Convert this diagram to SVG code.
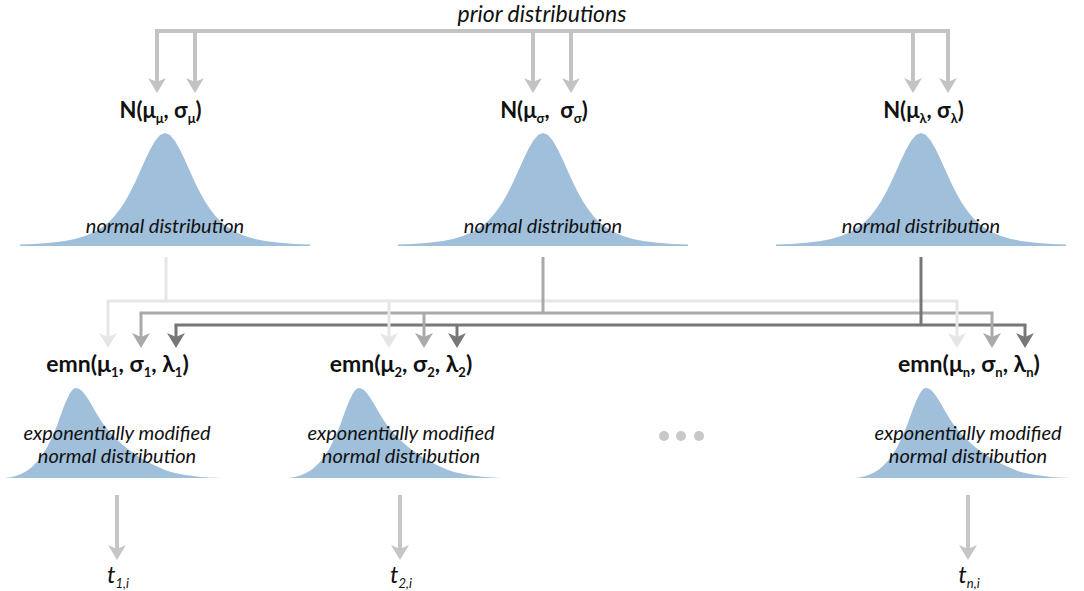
<svg xmlns="http://www.w3.org/2000/svg" xmlns:xlink="http://www.w3.org/1999/xlink" width="1084" height="591" viewBox="0 0 1084 591">
<style>
  .lbl { font-family: Lato, "Open Sans", "Liberation Sans", sans-serif; font-weight: bold; font-size: 22px; fill: #111; }
  .emn { font-family: Lato, "Open Sans", "Liberation Sans", sans-serif; font-weight: bold; font-size: 23px; fill: #111; }
  .it { font-family: Lato, "Open Sans", "Liberation Sans", sans-serif; font-style: italic; font-size: 20px; fill: #111; }
  .title { font-family: Lato, "Open Sans", "Liberation Sans", sans-serif; font-style: italic; font-size: 23px; fill: #111; }
  .tt { font-family: Lato, "Open Sans", "Liberation Sans", sans-serif; font-style: italic; font-size: 24px; fill: #111; }
  .sub { font-size: 13px; }
  .bell { fill: #9fbfdb; }
  .ln { fill: none; }
  .top { stroke: #c3c3c3; stroke-width: 4; }
  .light { stroke: #e6e6e6; stroke-width: 3; }
  .med { stroke: #aaaaaa; stroke-width: 3; }
  .dark { stroke: #777777; stroke-width: 3; }
  .bot { stroke: #c6c6c6; stroke-width: 4; }
  .dot { fill: #c8c8c8; }
</style>
<defs>
  <marker id="aTop" markerUnits="userSpaceOnUse" viewBox="-10 -10 20 20" markerWidth="20" markerHeight="20" refX="0" refY="0" orient="auto"><path d="M8,0 L-7,-9 L-3,0 L-7,9 Z" fill="#c3c3c3"/></marker>
  <marker id="aLight" markerUnits="userSpaceOnUse" viewBox="-10 -10 20 20" markerWidth="20" markerHeight="20" refX="0" refY="0" orient="auto"><path d="M8,0 L-7,-9 L-3,0 L-7,9 Z" fill="#e6e6e6"/></marker>
  <marker id="aMed" markerUnits="userSpaceOnUse" viewBox="-10 -10 20 20" markerWidth="20" markerHeight="20" refX="0" refY="0" orient="auto"><path d="M8,0 L-7,-9 L-3,0 L-7,9 Z" fill="#aaaaaa"/></marker>
  <marker id="aDark" markerUnits="userSpaceOnUse" viewBox="-10 -10 20 20" markerWidth="20" markerHeight="20" refX="0" refY="0" orient="auto"><path d="M8,0 L-7,-9 L-3,0 L-7,9 Z" fill="#777777"/></marker>
  <marker id="aBot" markerUnits="userSpaceOnUse" viewBox="-10 -10 20 20" markerWidth="20" markerHeight="20" refX="0" refY="0" orient="auto"><path d="M8,0 L-7,-9 L-3,0 L-7,9 Z" fill="#c6c6c6"/></marker>
  <path id="bell" d="M-145,0 L-145,-1.5 -130,-2.1 -115,-3.2 -100,-5.1 -90,-7.1 -80,-9.9 -70,-14.3 -60,-20.8 -55,-25.1 -50,-30.5 -45,-36.9 -40,-44.6 -35,-53.5 -30,-63.6 -25,-74.5 -20,-85.7 -15,-96.3 -10,-105.1 -5,-110.9 0,-113 5,-110.9 10,-105.1 15,-96.3 20,-85.7 25,-74.5 30,-63.6 35,-53.5 40,-44.6 45,-36.9 50,-30.5 55,-25.1 60,-20.8 70,-14.3 80,-9.9 90,-7.1 100,-5.1 115,-3.2 130,-2.1 145,-1.5 145,0 Z"/>
  <path id="emg" d="M-71,0 C-40,-2 -28,-30 -18,-55 C-10,-78 -5,-90 0,-90 C6,-90 12,-80 22,-62 C35,-40 60,-18 95,-6 C115,-1 135,0 154,0 Z"/>
</defs>

<text class="title" x="542" y="22" text-anchor="middle">prior distributions</text>

<g id="connectors">
  <path class="ln top" d="M155,31 H950"/>
  <path class="ln top" d="M157,31 V85" marker-end="url(#aTop)"/>
  <path class="ln top" d="M195,31 V85" marker-end="url(#aTop)"/>
  <path class="ln top" d="M533,31 V85" marker-end="url(#aTop)"/>
  <path class="ln top" d="M571,31 V85" marker-end="url(#aTop)"/>
  <path class="ln top" d="M913,31 V85" marker-end="url(#aTop)"/>
  <path class="ln top" d="M948,31 V85" marker-end="url(#aTop)"/>
  <path class="ln light" d="M106.5,301 H958.5"/>
  <path class="ln med" d="M139.5,313 H993.5"/>
  <path class="ln dark" d="M174.5,325 H1026.5"/>
  <path class="ln light" d="M166,257 V301"/>
  <path class="ln med" d="M543,257 V313"/>
  <path class="ln dark" d="M921,257 V325"/>
  <path class="ln light" d="M108,301 V340" marker-end="url(#aLight)"/>
  <path class="ln light" d="M389,301 V340" marker-end="url(#aLight)"/>
  <path class="ln light" d="M957,301 V340" marker-end="url(#aLight)"/>
  <path class="ln med" d="M141,313 V340" marker-end="url(#aMed)"/>
  <path class="ln med" d="M424,313 V340" marker-end="url(#aMed)"/>
  <path class="ln med" d="M992,313 V340" marker-end="url(#aMed)"/>
  <path class="ln dark" d="M176,325 V340" marker-end="url(#aDark)"/>
  <path class="ln dark" d="M457,325 V340" marker-end="url(#aDark)"/>
  <path class="ln dark" d="M1025,325 V340" marker-end="url(#aDark)"/>
  <path class="ln bot" d="M117,495 V552" marker-end="url(#aBot)"/>
  <path class="ln bot" d="M400,495 V552" marker-end="url(#aBot)"/>
  <path class="ln bot" d="M968,495 V552" marker-end="url(#aBot)"/>
</g>

<g id="prior-mu">
  <text class="lbl" x="160.5" y="118" text-anchor="middle">N(μ<tspan class="sub" dy="5">μ</tspan><tspan dy="-5">, σ</tspan><tspan class="sub" dy="5">μ</tspan><tspan dy="-5">)</tspan></text>
  <use xlink:href="#bell" x="165" y="246" class="bell"/>
  <text class="it" x="165" y="233" text-anchor="middle">normal distribution</text>
</g>
<g id="prior-sigma">
  <text class="lbl" x="544" y="118" text-anchor="middle" xml:space="preserve">N(μ<tspan class="sub" dy="5">σ</tspan><tspan dy="-5">,  σ</tspan><tspan class="sub" dy="5">σ</tspan><tspan dy="-5">)</tspan></text>
  <use xlink:href="#bell" x="543" y="246" class="bell"/>
  <text class="it" x="543" y="233" text-anchor="middle">normal distribution</text>
</g>
<g id="prior-lambda">
  <text class="lbl" x="923.5" y="118" text-anchor="middle">N(μ<tspan class="sub" dy="5">λ</tspan><tspan dy="-5">, σ</tspan><tspan class="sub" dy="5">λ</tspan><tspan dy="-5">)</tspan></text>
  <use xlink:href="#bell" x="921" y="246" class="bell"/>
  <text class="it" x="921" y="233" text-anchor="middle">normal distribution</text>
</g>

<g id="emn-1">
  <text class="emn" x="117.5" y="372" text-anchor="middle">emn(μ<tspan class="sub" dy="5">1</tspan><tspan dy="-5">, σ</tspan><tspan class="sub" dy="5">1</tspan><tspan dy="-5">, λ</tspan><tspan class="sub" dy="5">1</tspan><tspan dy="-5">)</tspan></text>
  <use xlink:href="#emg" x="76" y="478" class="bell"/>
  <text class="it" x="117" y="440" text-anchor="middle">exponentially modified</text>
  <text class="it" x="117" y="463" text-anchor="middle">normal distribution</text>
</g>
<g id="emn-2">
  <text class="emn" x="401" y="372" text-anchor="middle">emn(μ<tspan class="sub" dy="5">2</tspan><tspan dy="-5">, σ</tspan><tspan class="sub" dy="5">2</tspan><tspan dy="-5">, λ</tspan><tspan class="sub" dy="5">2</tspan><tspan dy="-5">)</tspan></text>
  <use xlink:href="#emg" x="359" y="478" class="bell"/>
  <text class="it" x="401" y="440" text-anchor="middle">exponentially modified</text>
  <text class="it" x="401" y="463" text-anchor="middle">normal distribution</text>
</g>
<g id="ellipsis">
  <circle class="dot" cx="664" cy="436" r="5"/>
  <circle class="dot" cx="681" cy="436" r="5"/>
  <circle class="dot" cx="699" cy="436" r="5"/>
</g>
<g id="emn-n">
  <text class="emn" x="969" y="372" text-anchor="middle">emn(μ<tspan class="sub" dy="5">n</tspan><tspan dy="-5">, σ</tspan><tspan class="sub" dy="5">n</tspan><tspan dy="-5">, λ</tspan><tspan class="sub" dy="5">n</tspan><tspan dy="-5">)</tspan></text>
  <use xlink:href="#emg" x="926" y="478" class="bell"/>
  <text class="it" x="968" y="440" text-anchor="middle">exponentially modified</text>
  <text class="it" x="968" y="463" text-anchor="middle">normal distribution</text>
</g>

<g id="t-1"><text class="tt" x="118" y="583" text-anchor="middle">t<tspan class="sub" dy="5">1,i</tspan></text></g>
<g id="t-2"><text class="tt" x="401" y="583" text-anchor="middle">t<tspan class="sub" dy="5">2,i</tspan></text></g>
<g id="t-n"><text class="tt" x="969" y="583" text-anchor="middle">t<tspan class="sub" dy="5">n,i</tspan></text></g>
</svg>
